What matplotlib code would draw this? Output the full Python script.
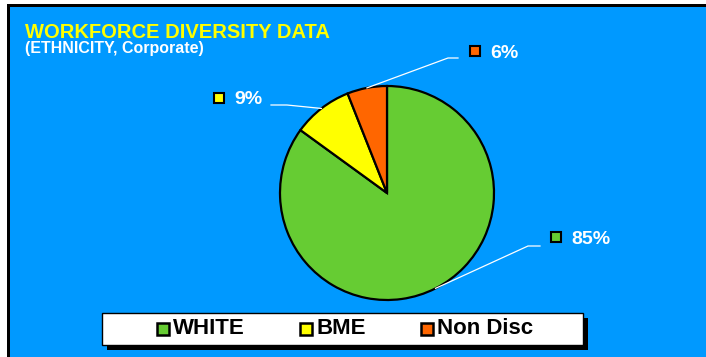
import matplotlib.pyplot as plt
from matplotlib.patches import Rectangle
import numpy as np

plt.rcParams['font.family'] = ['Liberation Sans', 'DejaVu Sans']

labels = ['WHITE', 'BME', 'Non Disc']
values = [85, 9, 6]
colors = ['#66CC33', '#FFFF00', '#FF6600']

blue = '#0099FF'

fig = plt.figure(figsize=(7.06, 3.57), dpi=100, facecolor='white')
ax = fig.add_axes([0, 0, 1, 1])
W, H = 706, 357

# blue panel running off the right/bottom edge, black line on top and left
ax.add_patch(Rectangle((10, -10), W + 10, H + 3, facecolor=blue, lw=0,
                       clip_on=False))
ax.add_patch(Rectangle((7, H - 7), W + 10, 3, facecolor='black', lw=0,
                       clip_on=False))
ax.add_patch(Rectangle((7, -10), 3, H + 3, facecolor='black', lw=0,
                       clip_on=False))

cx, cy, r = 387, 164, 107
wedges, _ = ax.pie(values, colors=colors, startangle=90, counterclock=False,
                   center=(cx, cy), radius=r, frame=True,
                   wedgeprops=dict(edgecolor='black', linewidth=1.6))

# label layout: marker centre, bend point, end of horizontal part
layout = [
    dict(mx=556, my=120, bend=(528, 111), end=(540, 111)),
    dict(mx=219, my=259, bend=(287, 252), end=(271, 252)),
    dict(mx=475, my=306, bend=(448, 299), end=(458, 299)),
]

for w, v, c, lay in zip(wedges, values, colors, layout):
    mid = np.deg2rad((w.theta1 + w.theta2) / 2)
    px, py = cx + r * np.cos(mid), cy + r * np.sin(mid)
    ax.plot([px, lay['bend'][0], lay['end'][0]],
            [py, lay['bend'][1], lay['end'][1]], color='white', lw=0.9)
    ax.add_patch(Rectangle((lay['mx'] - 5, lay['my'] - 5), 10, 10,
                           facecolor=c, edgecolor='black', lw=1.5))
    ax.text(lay['mx'] + 15, lay['my'] - 2, f'{v}%', color='white',
            fontsize=14, fontweight='bold', va='center', ha='left')

# titles
ax.text(25, H - 32, 'WORKFORCE DIVERSITY DATA', color='#FFFF00',
        fontsize=14.5, fontweight='bold', va='center', ha='left')
ax.text(25, H - 49, '(ETHNICITY, Corporate)', color='white',
        fontsize=11.5, fontweight='bold', va='center', ha='left')

# legend box with shadow
ax.add_patch(Rectangle((107, 7), 481, 32, facecolor='black', lw=0))
ax.add_patch(Rectangle((102, 12), 481, 32, facecolor='white',
                       edgecolor='black', lw=1))
leg_x = [162.5, 306, 427]
for lx, lab, c in zip(leg_x, labels, colors):
    ax.add_patch(Rectangle((lx - 6, 22), 12, 12, facecolor=c,
                           edgecolor='black', lw=1.8))
    ax.text(lx + 10, 28, lab, color='black', fontsize=16,
            fontweight='bold', va='center', ha='left')

ax.set_xlim(0, W)
ax.set_ylim(0, H)
ax.set_aspect('auto')
ax.axis('off')

fig.savefig('out.png', dpi=100, facecolor='white')
